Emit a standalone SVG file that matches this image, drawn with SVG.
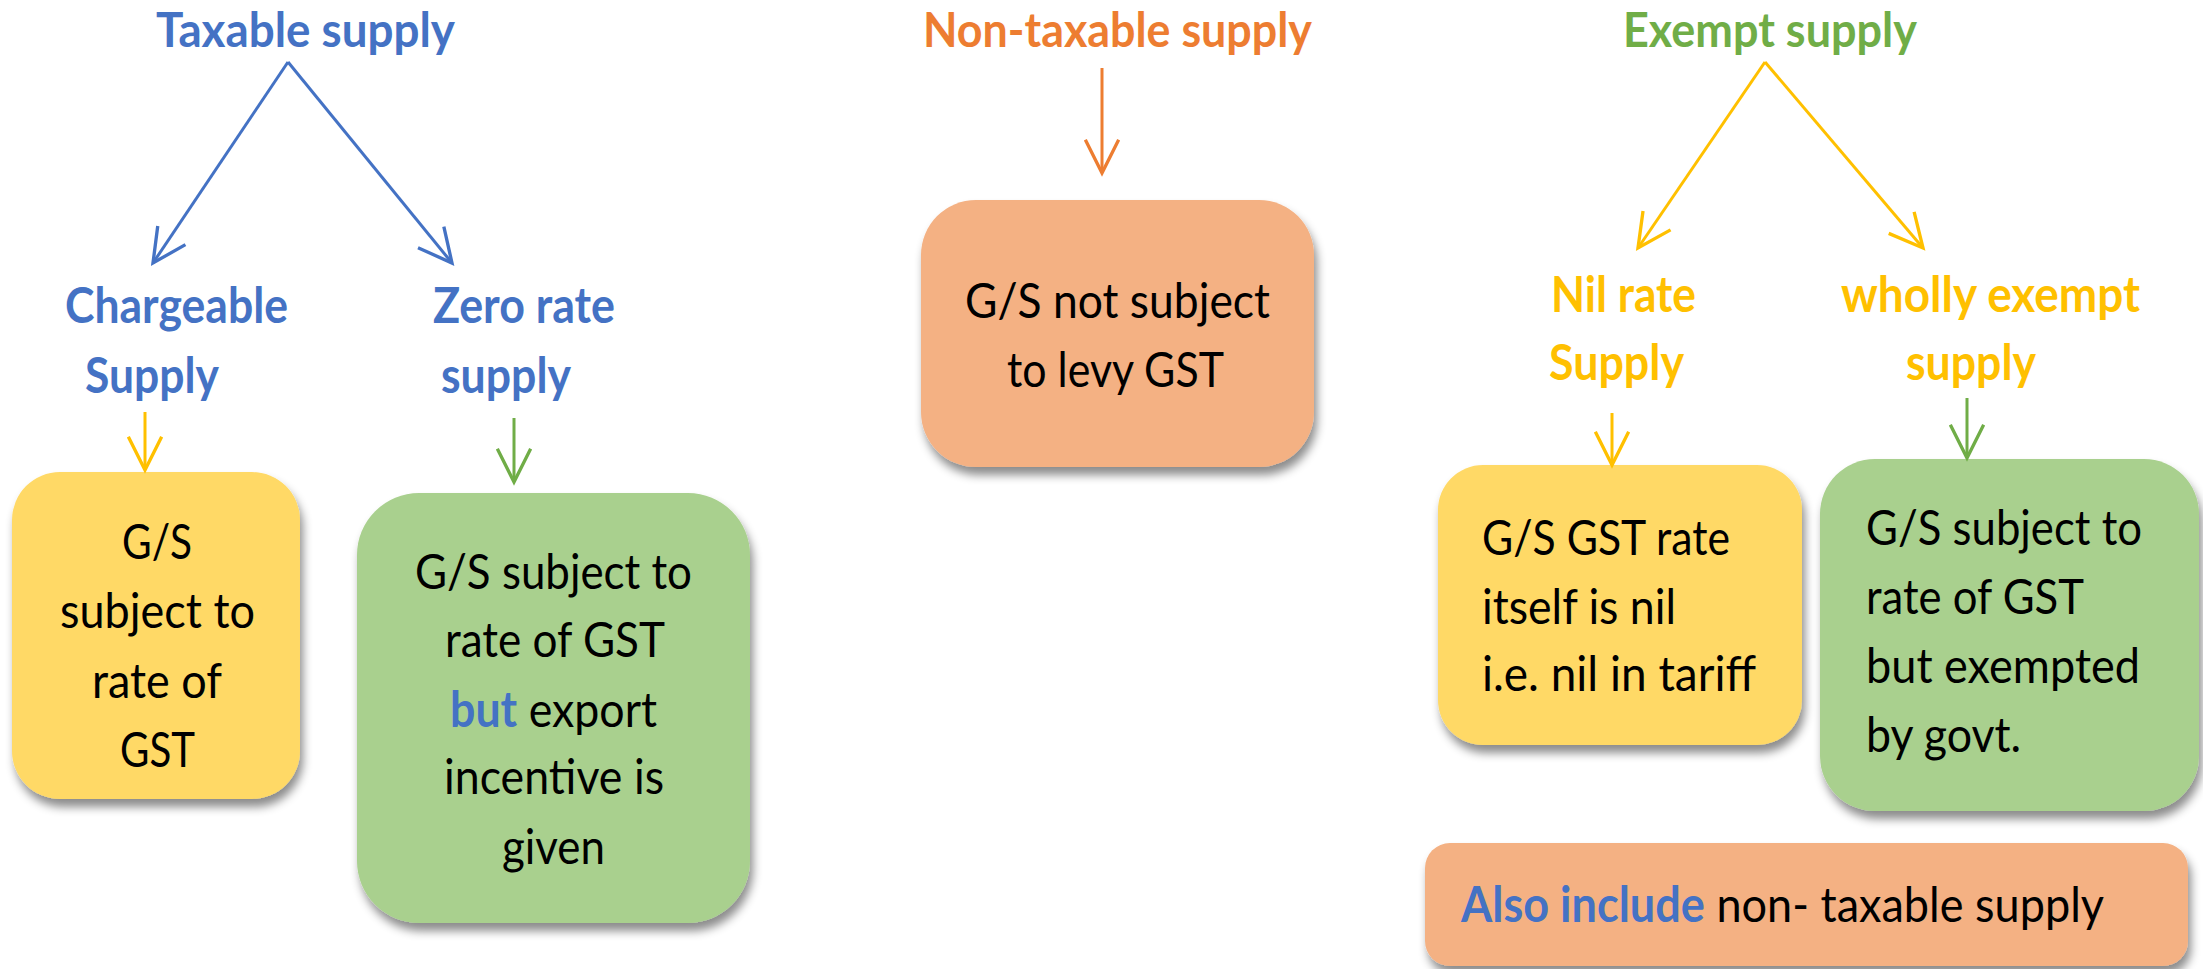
<svg xmlns="http://www.w3.org/2000/svg" width="2203" height="969" viewBox="0 0 2203 969">
<defs>
<style>
.h{font-family:Lato,"Liberation Sans",sans-serif;font-weight:bold;font-size:50px}
.top{font-size:47px}
.t{font-family:Lato,"Liberation Sans",sans-serif;font-size:49px;fill:#000}
.blue{fill:#4472C4}.orange{fill:#ED7D31}.green{fill:#70AD47}.gold{fill:#FFC000}
.c{stroke-width:3;fill:none}
</style>
<filter id="sh" x="-10%" y="-10%" width="125%" height="130%">
<feDropShadow dx="3" dy="8" stdDeviation="5" flood-color="#000" flood-opacity="0.45"/>
</filter>
<marker id="mb" markerUnits="userSpaceOnUse" markerWidth="40" markerHeight="40" refX="0" refY="0" viewBox="-32 -18 36 36" orient="auto"><path d="M-30,-15 L0,0 L-30,15" fill="none" stroke="#4472C4" stroke-width="3"/></marker>
<marker id="mo" markerUnits="userSpaceOnUse" markerWidth="40" markerHeight="40" refX="0" refY="0" viewBox="-32 -18 36 36" orient="auto"><path d="M-30,-15 L0,0 L-30,15" fill="none" stroke="#ED7D31" stroke-width="3"/></marker>
<marker id="my" markerUnits="userSpaceOnUse" markerWidth="40" markerHeight="40" refX="0" refY="0" viewBox="-32 -18 36 36" orient="auto"><path d="M-30,-15 L0,0 L-30,15" fill="none" stroke="#FFC000" stroke-width="3"/></marker>
<marker id="mg" markerUnits="userSpaceOnUse" markerWidth="40" markerHeight="40" refX="0" refY="0" viewBox="-32 -18 36 36" orient="auto"><path d="M-30,-15 L0,0 L-30,15" fill="none" stroke="#70AD47" stroke-width="3"/></marker>
</defs>
<rect width="2203" height="969" fill="#fff"/>

<g id="taxable">
<text class="h top blue" x="156" y="47" textLength="299" lengthAdjust="spacingAndGlyphs">Taxable supply</text>
</g>
<g id="chargeable">
<text class="h blue" x="65" y="323" textLength="223" lengthAdjust="spacingAndGlyphs">Chargeable</text>
<text class="h blue" x="85" y="393" textLength="134" lengthAdjust="spacingAndGlyphs">Supply</text>
</g>
<g id="zerorate">
<text class="h blue" x="433" y="323" textLength="182" lengthAdjust="spacingAndGlyphs">Zero rate</text>
<text class="h blue" x="441" y="393" textLength="130" lengthAdjust="spacingAndGlyphs">supply</text>
</g>
<g id="box-chargeable">
<rect x="12" y="472" width="288" height="327" rx="48" fill="#FFD966" filter="url(#sh)"/>
<text class="t" x="122" y="559" textLength="70" lengthAdjust="spacingAndGlyphs">G/S</text>
<text class="t" x="60" y="628" textLength="195" lengthAdjust="spacingAndGlyphs">subject to</text>
<text class="t" x="92" y="698" textLength="130" lengthAdjust="spacingAndGlyphs">rate of</text>
<text class="t" x="120" y="767" textLength="75" lengthAdjust="spacingAndGlyphs">GST</text>
</g>
<g id="box-zerorate">
<rect x="357" y="493" width="393" height="430" rx="62" fill="#A9D08E" filter="url(#sh)"/>
<text class="t" x="415" y="589" textLength="277" lengthAdjust="spacingAndGlyphs">G/S subject to</text>
<text class="t" x="445" y="657" textLength="220" lengthAdjust="spacingAndGlyphs">rate of GST</text>
<text class="t" x="450" y="727" textLength="207" lengthAdjust="spacingAndGlyphs"><tspan class="blue" font-weight="bold">but</tspan> export</text>
<text class="t" x="444" y="794" textLength="220" lengthAdjust="spacingAndGlyphs">incentive is</text>
<text class="t" x="502" y="864" textLength="103" lengthAdjust="spacingAndGlyphs">given</text>
</g>

<g id="nontaxable">
<text class="h top orange" x="923" y="47" textLength="389" lengthAdjust="spacingAndGlyphs">Non-taxable supply</text>
</g>
<g id="box-nontaxable">
<rect x="921" y="200" width="393" height="267" rx="55" fill="#F4B183" filter="url(#sh)"/>
<text class="t" x="965" y="318" textLength="305" lengthAdjust="spacingAndGlyphs">G/S not subject</text>
<text class="t" x="1007" y="387" textLength="217" lengthAdjust="spacingAndGlyphs">to levy GST</text>
</g>

<g id="exempt">
<text class="h top green" x="1623" y="47" textLength="294" lengthAdjust="spacingAndGlyphs">Exempt supply</text>
</g>
<g id="nilrate">
<text class="h gold" x="1551" y="312" textLength="145" lengthAdjust="spacingAndGlyphs">Nil rate</text>
<text class="h gold" x="1549" y="380" textLength="135" lengthAdjust="spacingAndGlyphs">Supply</text>
</g>
<g id="wholly">
<text class="h gold" x="1841" y="312" textLength="299" lengthAdjust="spacingAndGlyphs">wholly exempt</text>
<text class="h gold" x="1906" y="380" textLength="130" lengthAdjust="spacingAndGlyphs">supply</text>
</g>
<g id="box-nilrate">
<rect x="1438" y="465" width="364" height="280" rx="45" fill="#FFD966" filter="url(#sh)"/>
<text class="t" x="1482" y="555" textLength="248" lengthAdjust="spacingAndGlyphs">G/S GST rate</text>
<text class="t" x="1482" y="624" textLength="194" lengthAdjust="spacingAndGlyphs">itself is nil</text>
<text class="t" x="1482" y="691" textLength="274" lengthAdjust="spacingAndGlyphs">i.e. nil in tariff</text>
</g>
<g id="box-wholly">
<rect x="1820" y="459" width="379" height="352" rx="55" fill="#A9D08E" filter="url(#sh)"/>
<text class="t" x="1866" y="545" textLength="276" lengthAdjust="spacingAndGlyphs">G/S subject to</text>
<text class="t" x="1866" y="614" textLength="218" lengthAdjust="spacingAndGlyphs">rate of GST</text>
<text class="t" x="1866" y="683" textLength="274" lengthAdjust="spacingAndGlyphs">but exempted</text>
<text class="t" x="1866" y="752" textLength="155" lengthAdjust="spacingAndGlyphs">by govt.</text>
</g>
<g id="box-also">
<rect x="1425" y="843" width="763" height="123" rx="25" fill="#F4B183" filter="url(#sh)"/>
<text class="t" x="1461" y="922" textLength="643" lengthAdjust="spacingAndGlyphs"><tspan class="blue" font-weight="bold">Also include</tspan> non- taxable supply</text>
</g>

<g id="connectors" class="c">
<line x1="288" y1="62" x2="153" y2="263" stroke="#4472C4" stroke-width="3" marker-end="url(#mb)"/>
<line x1="288" y1="62" x2="452" y2="263" stroke="#4472C4" stroke-width="3" marker-end="url(#mb)"/>
<line x1="145" y1="412" x2="145" y2="470" stroke="#FFC000" stroke-width="3" marker-end="url(#my)"/>
<line x1="514" y1="418" x2="514" y2="482" stroke="#70AD47" stroke-width="3" marker-end="url(#mg)"/>
<line x1="1102" y1="68" x2="1102" y2="173" stroke="#ED7D31" stroke-width="3" marker-end="url(#mo)"/>
<line x1="1765" y1="62" x2="1638" y2="248" stroke="#FFC000" stroke-width="3" marker-end="url(#my)"/>
<line x1="1765" y1="62" x2="1923" y2="248" stroke="#FFC000" stroke-width="3" marker-end="url(#my)"/>
<line x1="1612" y1="413" x2="1612" y2="465" stroke="#FFC000" stroke-width="3" marker-end="url(#my)"/>
<line x1="1967" y1="398" x2="1967" y2="458" stroke="#70AD47" stroke-width="3" marker-end="url(#mg)"/>
</g>
</svg>
